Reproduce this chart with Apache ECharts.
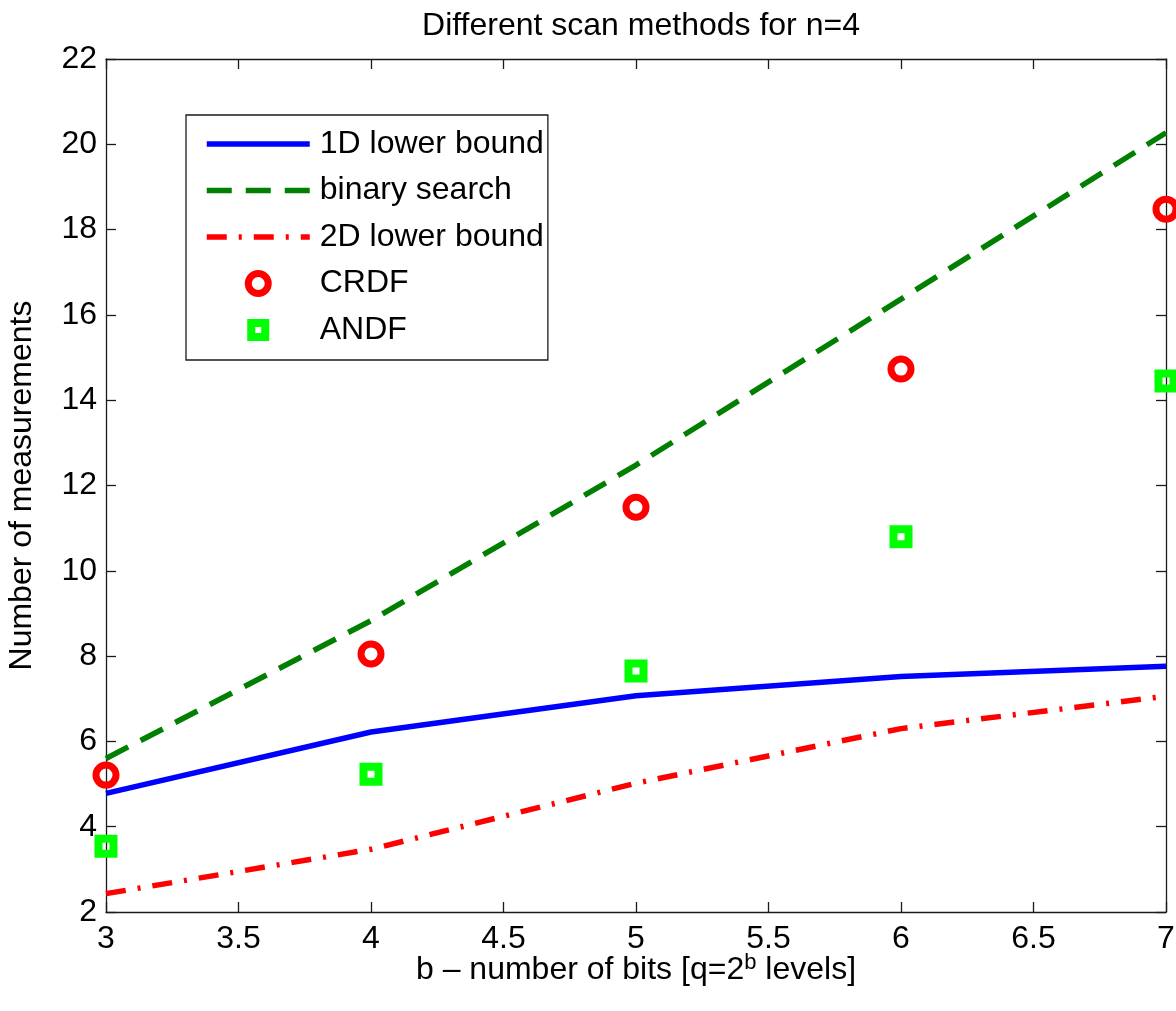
<!DOCTYPE html>
<html>
<head>
<meta charset="utf-8">
<title>Different scan methods for n=4</title>
<script src="https://cdn.jsdelivr.net/npm/echarts@6/dist/echarts.min.js"></script>
<style>
  html, body { margin: 0; padding: 0; background: #fff; }
  #chart { width: 1176px; height: 1011px; }
</style>
</head>
<body>
<div id="chart"></div>
<script>
// Number of bits b (x axis)
const bits = [3, 4, 5, 6, 7];

// Measurement counts per method
const lowerBound1D = [4.78, 6.22, 7.07, 7.52, 7.76];
const binarySearch = [5.6, 8.83, 12.48, 16.37, 20.27];
const lowerBound2D = [2.43, 3.47, 5.02, 6.3, 7.06];
const crdf = [5.21, 8.05, 11.49, 14.73, 18.48];
const andf = [3.54, 5.23, 7.65, 10.8, 14.45];

// Axis ticks
const xTicks = { min: 3, max: 7, step: 0.5 };
const yTicks = { min: 2, max: 22, step: 2 };

const FONT = '"Liberation Sans", Arial, Helvetica, sans-serif';
const FS = 32;
const pairs = (ys) => bits.map((b, i) => [b, ys[i]]);

const BLUE = '#0000ff', GREEN = '#007f00', RED = '#ff0000', LIME = '#00ff00';
const LINE_W = 5.5;
const DASH = [25, 14];
const DASH_DOT = [20, 12, 3, 12];

const chart = echarts.init(document.getElementById('chart'), null, { renderer: 'canvas' });

const axisLineStyle = { color: '#1a1a1a', width: 1.3 };

chart.setOption({
  backgroundColor: '#fff',
  animation: false,
  textStyle: { fontFamily: FONT },
  title: {
    text: 'Different scan methods for n=4',
    left: 636,
    top: 5,
    textAlign: 'center',
    textStyle: { fontFamily: FONT, fontSize: FS, fontWeight: 'normal', color: '#000' }
  },
  grid: { left: 106, right: 10, top: 59, bottom: 99, containLabel: false, outerBoundsMode: 'none' },
  legend: {
    orient: 'vertical',
    left: 186,
    top: 115,
    padding: [13, 4, 14, 18],
    itemGap: 14.5,
    itemWidth: 103,
    itemHeight: 20,
    borderColor: '#1a1a1a',
    borderWidth: 1.3,
    backgroundColor: '#fff',
    textStyle: { fontFamily: FONT, fontSize: FS, color: '#000', lineHeight: 32, padding: [0, 0, 0, 5] },
    data: [
      { name: '1D lower bound', lineStyle: { color: BLUE, width: LINE_W, type: 'solid' } },
      { name: 'binary search', lineStyle: { color: GREEN, width: LINE_W, type: DASH } },
      { name: '2D lower bound', lineStyle: { color: RED, width: LINE_W, type: DASH_DOT } },
      { name: 'CRDF', icon: 'circle',
        itemStyle: { color: 'rgba(0,0,0,0)', borderColor: RED, borderWidth: 7, opacity: 1 } },
      { name: 'ANDF', icon: 'path://M0,0M20,20M3,3L17,3L17,17L3,17Z',
        itemStyle: { color: 'rgba(0,0,0,0)', borderColor: LIME, borderWidth: 8, opacity: 1 } }
    ]
  },
  xAxis: [
    {
      type: 'value', min: xTicks.min, max: xTicks.max, interval: xTicks.step,
      position: 'bottom',
      splitLine: { show: false },
      axisLine: { onZero: false, lineStyle: axisLineStyle },
      axisTick: { inside: true, length: 10, lineStyle: axisLineStyle },
      axisLabel: { margin: 11, fontFamily: FONT, fontSize: FS, color: '#000' },
      name: '{t|b – number of bits [q=2}{s|b}{t| levels]}',
      nameLocation: 'middle',
      nameGap: 40,
      nameMoveOverlap: false,
      nameTextStyle: {
        rich: {
          t: { fontFamily: FONT, fontSize: FS, color: '#000' },
          s: { fontFamily: FONT, fontSize: 22, color: '#000', verticalAlign: 'top', padding: [0, 0, 14, 0] }
        }
      }
    },
    {
      type: 'value', min: xTicks.min, max: xTicks.max, interval: xTicks.step,
      position: 'top',
      splitLine: { show: false },
      axisLine: { onZero: false, lineStyle: axisLineStyle },
      axisTick: { inside: true, length: 10, lineStyle: axisLineStyle },
      axisLabel: { show: false }
    }
  ],
  yAxis: [
    {
      type: 'value', min: yTicks.min, max: yTicks.max, interval: yTicks.step,
      position: 'left',
      splitLine: { show: false },
      axisLine: { onZero: false, lineStyle: axisLineStyle },
      axisTick: { inside: true, length: 10, lineStyle: axisLineStyle },
      axisLabel: { margin: 9, fontFamily: FONT, fontSize: FS, color: '#000' },
      name: 'Number of measurements',
      nameLocation: 'middle',
      nameGap: 68,
      nameMoveOverlap: false,
      nameTextStyle: { fontFamily: FONT, fontSize: FS, color: '#000' }
    },
    {
      type: 'value', min: yTicks.min, max: yTicks.max, interval: yTicks.step,
      position: 'right',
      splitLine: { show: false },
      axisLine: { onZero: false, lineStyle: axisLineStyle },
      axisTick: { inside: true, length: 10, lineStyle: axisLineStyle },
      axisLabel: { show: false }
    }
  ],
  series: [
    {
      name: '1D lower bound', type: 'line', data: pairs(lowerBound1D),
      symbol: 'none', showSymbol: false, itemStyle: { color: BLUE, opacity: 0 },
      lineStyle: { color: BLUE, width: LINE_W, type: 'solid' }, z: 3
    },
    {
      name: 'binary search', type: 'line', data: pairs(binarySearch),
      symbol: 'none', showSymbol: false, itemStyle: { color: GREEN, opacity: 0 },
      lineStyle: { color: GREEN, width: LINE_W, type: DASH }, z: 3
    },
    {
      name: '2D lower bound', type: 'line', data: pairs(lowerBound2D),
      symbol: 'none', showSymbol: false, itemStyle: { color: RED, opacity: 0 },
      lineStyle: { color: RED, width: LINE_W, type: DASH_DOT }, z: 3
    },
    {
      name: 'CRDF', type: 'scatter', data: pairs(crdf),
      symbol: 'circle', symbolSize: 20, clip: false,
      itemStyle: { color: 'rgba(0,0,0,0)', borderColor: RED, borderWidth: 7, opacity: 1 }, z: 4
    },
    {
      name: 'ANDF', type: 'scatter', data: pairs(andf),
      symbol: 'rect', symbolSize: 15, clip: false,
      itemStyle: { color: 'rgba(0,0,0,0)', borderColor: LIME, borderWidth: 8, opacity: 1 }, z: 4
    }
  ]
});
</script>
</body>
</html>
